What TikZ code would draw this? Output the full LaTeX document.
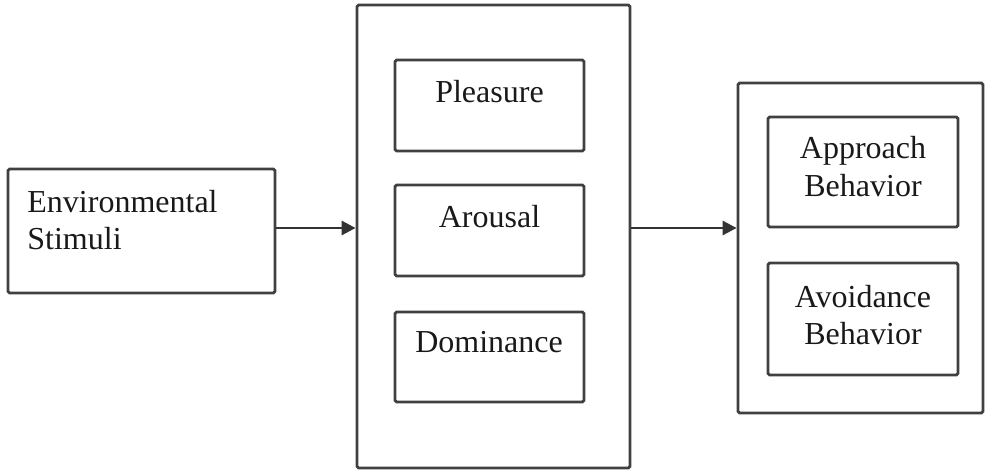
\documentclass[tikz,border=0pt]{standalone}
\usepackage{fontspec}
\setmainfont{Liberation Serif}
\usetikzlibrary{arrows.meta,fit}
\begin{document}
\begin{tikzpicture}[x=0.5pt,y=-0.5pt,
  box/.style={draw=black!75, line width=1.4pt, rounded corners=0.8pt, inner sep=0pt},
  lbl/.style={font=\fontsize{16}{18.5}\selectfont, inner sep=0pt, text=black!90},
  conn/.style={draw=black!80, line width=1.4pt, -{Triangle[length=7pt,width=7pt]}}]
\useasboundingbox (0,0) rectangle (985,471);
% boxes
\node[box, fit={(8,169) (275,293)}] (env) {};
\node[box, fit={(357,5) (630,468)}] (mid) {};
\node[box, fit={(395,60) (584,151)}] (plea) {};
\node[box, fit={(395,185) (584,276)}] (arou) {};
\node[box, fit={(395,312) (584,402)}] (domi) {};
\node[box, fit={(738,83) (983,413)}] (resp) {};
\node[box, fit={(768,117) (958,227)}] (appr) {};
\node[box, fit={(768,263) (958,375)}] (avoi) {};
% texts
\node[lbl, anchor=base west] (envA) at (27,212) {Environmental};
\node[lbl, anchor=base west] (envB) at (27,249) {Stimuli};
\node[lbl, anchor=base] (pleaT) at (489.5,102) {Pleasure};
\node[lbl, anchor=base] (arouT) at (489.5,227) {Arousal};
\node[lbl, anchor=base] (domiT) at (489,352) {Dominance};
\node[lbl, anchor=base] (apprA) at (863,158) {Approach};
\node[lbl, anchor=base] (apprB) at (863,196) {Behavior};
\node[lbl, anchor=base] (avoiA) at (863,307) {Avoidance};
\node[lbl, anchor=base] (avoiB) at (863,344) {Behavior};
% connectors
\draw[conn] (env.east |- 0,228) -- (mid.west |- 0,228);
\draw[conn] (mid.east |- 0,228) -- (resp.west |- 0,228);
\end{tikzpicture}
\end{document}
